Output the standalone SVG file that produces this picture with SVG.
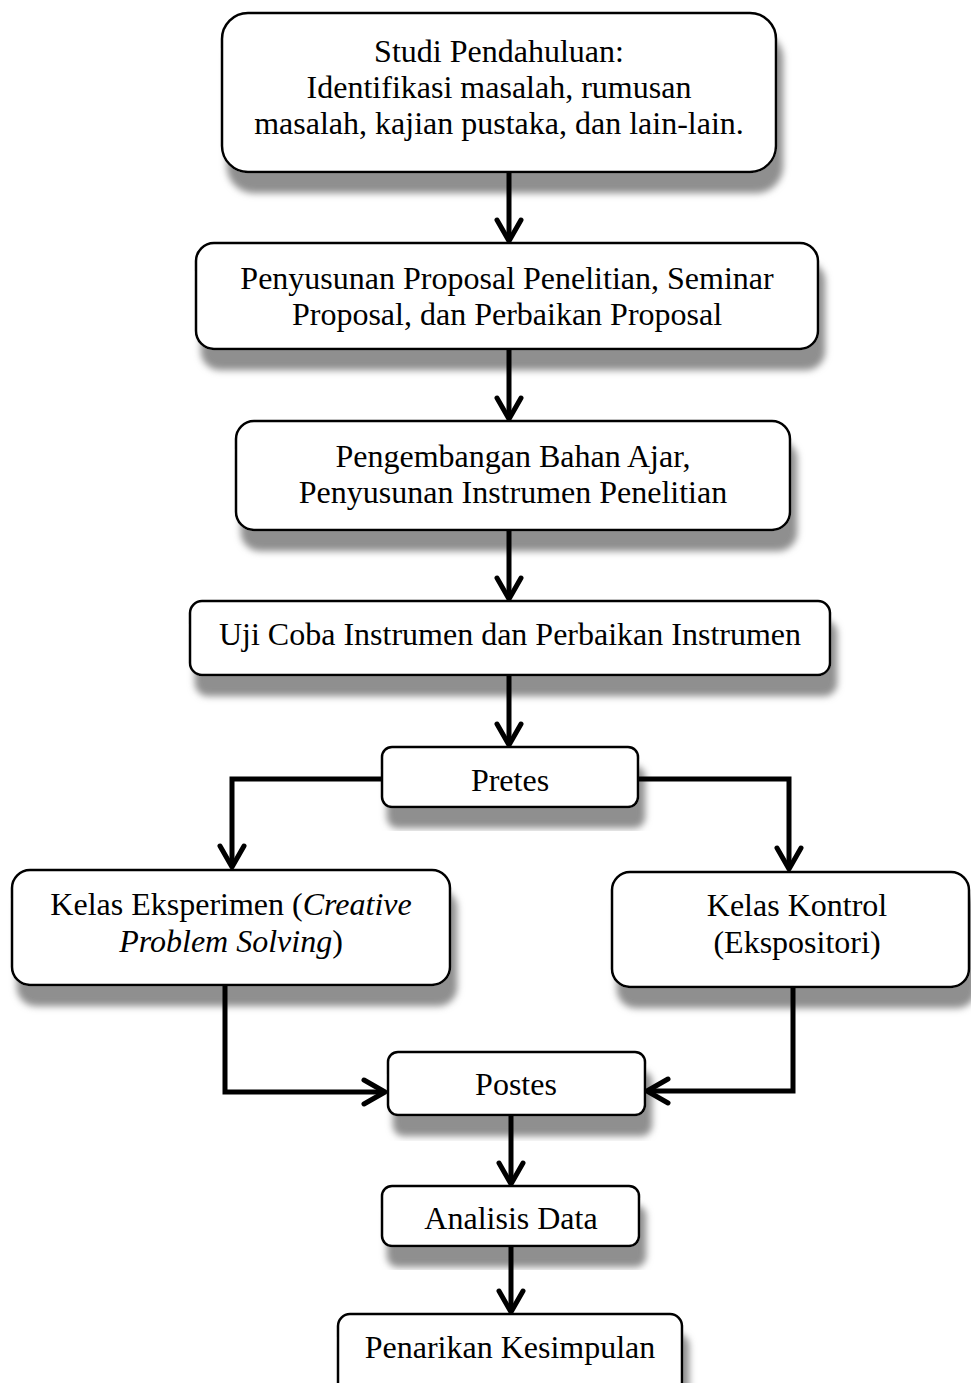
<svg xmlns="http://www.w3.org/2000/svg" width="971" height="1383" viewBox="0 0 971 1383">
<defs>
<filter id="sh" x="-10%" y="-20%" width="130%" height="160%">
<feDropShadow dx="6" dy="20" stdDeviation="3.5" flood-color="#8f8f8f" flood-opacity="1"/>
</filter>
</defs>
<style>
.box{fill:#fff;stroke:#000;stroke-width:2.5;filter:url(#sh)}
.t{font-family:"Liberation Serif","Times New Roman",serif;font-size:32px;fill:#000;text-anchor:middle}
.c{fill:none;stroke:#000;stroke-width:5}
.ah{fill:none;stroke:#000;stroke-width:5;stroke-linejoin:round;stroke-linecap:round}
</style>
<rect width="971" height="1383" fill="#fff"/>
<g id="n1"><rect class="box" x="222" y="13" width="554" height="159" rx="26"/>
<text class="t" x="499" y="62">Studi Pendahuluan:</text>
<text class="t" x="499" y="98">Identifikasi masalah, rumusan</text>
<text class="t" x="499" y="134">masalah, kajian pustaka, dan lain-lain.</text></g>
<g id="n2"><rect class="box" x="196" y="243" width="622" height="106" rx="18"/>
<text class="t" x="507" y="289">Penyusunan Proposal Penelitian, Seminar</text>
<text class="t" x="507" y="325">Proposal, dan Perbaikan Proposal</text></g>
<g id="n3"><rect class="box" x="236" y="421" width="554" height="109" rx="18"/>
<text class="t" x="513" y="467">Pengembangan Bahan Ajar,</text>
<text class="t" x="513" y="503">Penyusunan Instrumen Penelitian</text></g>
<g id="n4"><rect class="box" x="190" y="601" width="640" height="74" rx="12"/>
<text class="t" x="510" y="645">Uji Coba Instrumen dan Perbaikan Instrumen</text></g>
<g id="n5"><rect class="box" x="382" y="747" width="256" height="60" rx="10"/>
<text class="t" x="510" y="791">Pretes</text></g>
<g id="n6"><rect class="box" x="12" y="870" width="438" height="115" rx="18"/>
<text class="t" x="231" y="915">Kelas Eksperimen (<tspan font-style="italic">Creative</tspan></text>
<text class="t" x="231" y="952"><tspan font-style="italic">Problem Solving</tspan>)</text></g>
<g id="n7"><rect class="box" x="612" y="872" width="357" height="115" rx="18"/>
<text class="t" x="797" y="916">Kelas Kontrol</text>
<text class="t" x="797" y="953">(Ekspositori)</text></g>
<g id="n8"><rect class="box" x="388" y="1052" width="257" height="63" rx="10"/>
<text class="t" x="516" y="1095">Postes</text></g>
<g id="n9"><rect class="box" x="382" y="1186" width="257" height="60" rx="10"/>
<text class="t" x="511" y="1229">Analisis Data</text></g>
<g id="n10"><rect class="box" x="338" y="1314" width="344" height="100" rx="12"/>
<text class="t" x="510" y="1358">Penarikan Kesimpulan</text></g>
<g id="connectors">
<path class="c" d="M509,172 V239"/><path class="ah" d="M497,220 L509,241 L521,220"/>
<path class="c" d="M509,349 V417"/><path class="ah" d="M497,398 L509,419 L521,398"/>
<path class="c" d="M509,530 V597"/><path class="ah" d="M497,578 L509,599 L521,578"/>
<path class="c" d="M509,675 V743"/><path class="ah" d="M497,724 L509,745 L521,724"/>
<path class="c" d="M382,779 H232 V865"/><path class="ah" d="M220,846 L232,867 L244,846"/>
<path class="c" d="M638,779 H789 V867"/><path class="ah" d="M777,848 L789,869 L801,848"/>
<path class="c" d="M225,985 V1092 H383"/><path class="ah" d="M364,1080 L385,1092 L364,1104"/>
<path class="c" d="M793,987 V1091 H649"/><path class="ah" d="M668,1079 L647,1091 L668,1103"/>
<path class="c" d="M511,1115 V1182"/><path class="ah" d="M499,1163 L511,1184 L523,1163"/>
<path class="c" d="M511,1246 V1310"/><path class="ah" d="M499,1291 L511,1312 L523,1291"/>
</g>
</svg>
